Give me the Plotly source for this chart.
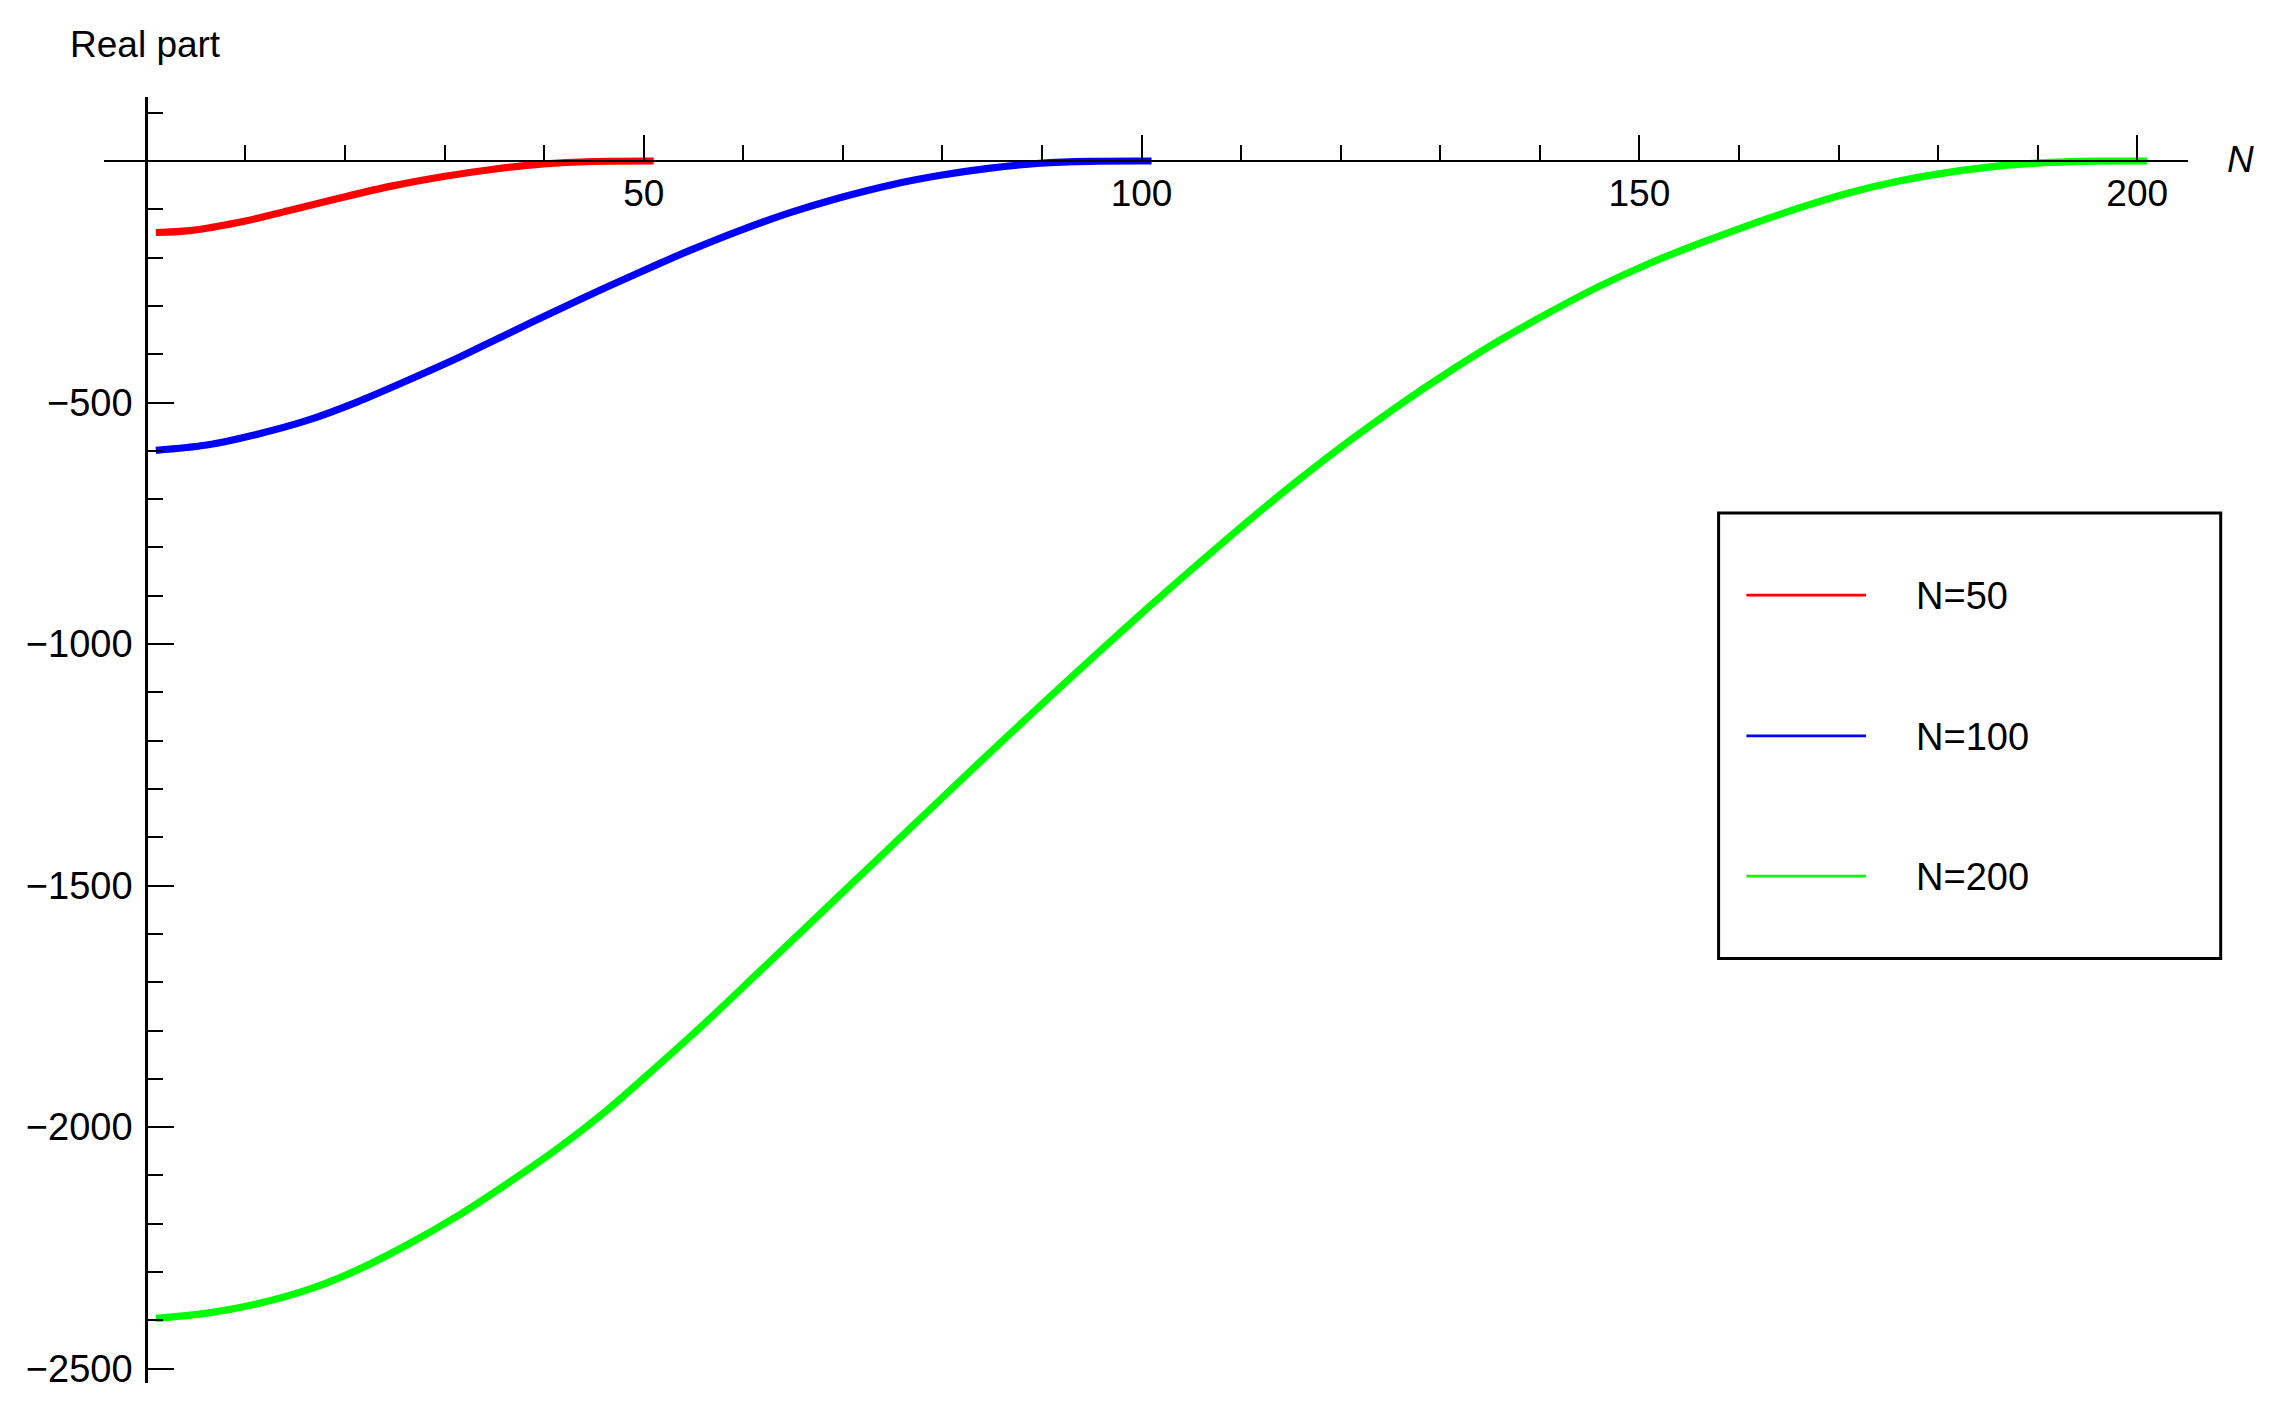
import plotly.graph_objects as go

# ---- data ----
x50 = [1, 4.4, 10, 14.5, 19.8, 24.9, 29.9, 34.9, 39.9, 45, 51]
y50 = [-148, -144, -124, -102, -75, -51, -32, -17, -6, -1, 0]

x100 = [1, 6.1, 11.1, 16.2, 21.2, 26.2, 31.2, 36.2, 41.3, 46.3, 51.5, 54.7,
        59.7, 64.7, 69.7, 74.7, 79.8, 84.8, 89.8, 94.8, 101]
y100 = [-599, -588, -566, -537, -499, -455, -409, -359, -309, -261, -213, -184.5,
        -143.5, -107, -76, -50, -29.6, -14.6, -4.6, -0.6, 0]

x200 = [1, 6.1, 11.1, 16.2, 21.2, 26.2, 31.2, 36.2, 41.3, 46.3, 51.5, 55.6,
        61, 66, 71, 76, 81, 86, 91, 96, 100.9, 105.9, 110.9, 115.9, 120.9,
        125.9, 130.9, 135.9, 141, 146, 151.1, 156.1, 161.1, 166.2, 171.2, 176.2,
        181.2, 186.2, 191.2, 196.3, 201]
y200 = [-2396, -2385, -2366, -2337, -2296, -2244, -2185, -2118, -2045, -1965,
        -1871, -1795, -1690, -1592, -1494, -1396, -1298, -1201, -1105, -1011,
        -920, -830, -742, -658, -579, -505, -436, -372, -313, -259, -211, -170,
        -132, -96, -65, -41, -23, -10, -3, -0.3, 0]

series_names = ["N=50", "N=100", "N=200"]
series_colors = ["#FF0000", "#0000FF", "#00FF00"]

x_tickvals = [50, 100, 150, 200]
y_tickvals = [-500, -1000, -1500, -2000, -2500]

XR = [-4.21, 205.1]
YR = [-2529.6, 132.5]

FONT = "Liberation Sans, Arial, sans-serif"
FS = 37

fig = go.Figure()
for xs, ys, nm, col in zip([x50, x100, x200], [y50, y100, y200], series_names, series_colors):
    fig.add_trace(go.Scatter(x=xs, y=ys, mode="lines", name=nm,
                             line=dict(color=col, width=7.2, shape="spline", smoothing=0.9),
                             showlegend=False))

xpos = (0 - YR[0]) / (YR[1] - YR[0])
ypos = (0 - XR[0]) / (XR[1] - XR[0])

# page body has an 8px margin, so the figure is made 8px smaller and shifted
fig.update_layout(
    width=2271, height=1404,
    margin=dict(l=96, r=91, t=89, b=29),
    paper_bgcolor="white", plot_bgcolor="white",
    font=dict(family=FONT, size=FS, color="black"),
    xaxis=dict(range=XR, anchor="free", position=xpos, side="bottom",
               showgrid=False, zeroline=False, showline=True, linecolor="black", linewidth=2,
               ticks="inside", ticklen=25, tickwidth=2, tickcolor="black",
               tickvals=x_tickvals, ticktext=[str(v) for v in x_tickvals],
               ticklabelstandoff=0,
               tickfont=dict(family=FONT, size=FS, color="black"),
               minor=dict(ticks="inside", ticklen=15, tickwidth=2, tickcolor="black",
                          dtick=10, tick0=0, showgrid=False)),
    yaxis=dict(range=YR, anchor="free", position=ypos, side="left",
               showgrid=False, zeroline=False, showline=True, linecolor="black", linewidth=2.5,
               ticks="inside", ticklen=26, tickwidth=2, tickcolor="black",
               tickvals=y_tickvals, ticktext=["\u2212" + str(-v) for v in y_tickvals],
               ticklabelstandoff=5,
               tickfont=dict(family=FONT, size=FS + 1, color="black"),
               minor=dict(ticks="inside", ticklen=15, tickwidth=2, tickcolor="black",
                          dtick=100, tick0=0, showgrid=False)),
)

def px_x(p):
    return (p - 104) / 2084

def px_y(p):
    return (1383 - p) / 1286.3

# axis labels
fig.add_annotation(text="Real part", xref="paper", yref="paper",
                   x=px_x(68), y=px_y(44),
                   xanchor="left", yanchor="middle", showarrow=False,
                   font=dict(family=FONT, size=FS, color="black"))
fig.add_annotation(text="<i>N</i>", xref="paper", yref="paper",
                   x=px_x(2240), y=px_y(159),
                   xanchor="center", yanchor="middle", showarrow=False,
                   font=dict(family=FONT, size=FS, color="black"))

# legend drawn as box + line samples + labels
fig.add_shape(type="rect", xref="paper", yref="paper",
              x0=px_x(1718.6), x1=px_x(2220.7), y0=px_y(958.3), y1=px_y(512.7),
              line=dict(color="black", width=3), fillcolor="white", layer="above")
legend_rows = [595, 735.7, 876]
for row, nm, col in zip(legend_rows, series_names, series_colors):
    fig.add_shape(type="line", xref="paper", yref="paper",
                  x0=px_x(1746.4), x1=px_x(1866), y0=px_y(row), y1=px_y(row),
                  line=dict(color=col, width=2.7), layer="above")
    fig.add_annotation(text=nm, xref="paper", yref="paper",
                       x=px_x(1914), y=px_y(row + 1), xanchor="left", yanchor="middle",
                       showarrow=False, font=dict(family=FONT, size=FS + 1, color="black"))

fig.write_html("out.html")
